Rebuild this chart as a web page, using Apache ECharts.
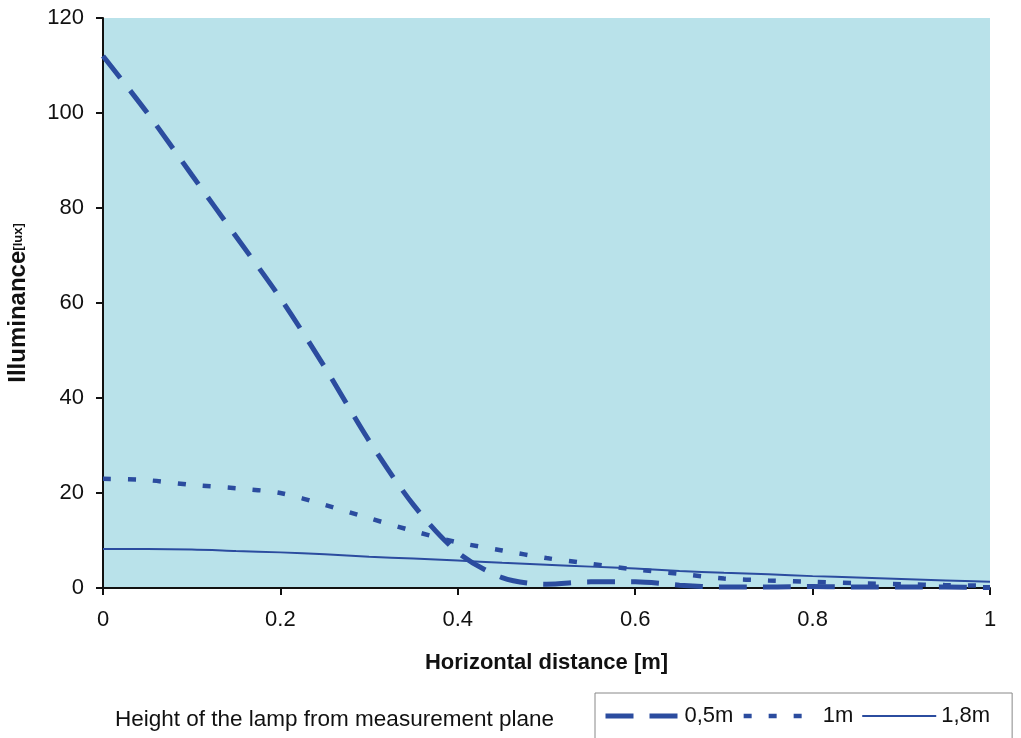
<!DOCTYPE html>
<html lang="en">
<head>
  <meta charset="utf-8">
  <title>Illuminance</title>
  <script src="https://cdn.jsdelivr.net/npm/echarts@6/dist/echarts.min.js"></script>
  <style>
    html, body { margin: 0; padding: 0; background: #fff; }
    #chart { width: 1021px; height: 738px; }
  </style>
</head>
<body>
<div id="chart"></div>

<script>
// horizontal distance [m]
var distance = [0, 0.05, 0.1, 0.15, 0.2, 0.25, 0.3, 0.35, 0.4, 0.45, 0.5,
                0.55, 0.6, 0.65, 0.7, 0.75, 0.8, 0.85, 0.9, 0.95, 1];

// illuminance [lux] per lamp height
var h05 = [112, 100, 87, 74, 61, 46.5, 31, 17.5, 7.5, 2.2, 0.8,
           1.3, 1.3, 0.6, 0.2, 0.2, 0.3, 0.2, 0.2, 0.2, 0.1];
var h1  = [23, 22.7, 21.7, 21, 20, 17.5, 14.7, 12, 9.6, 7.9, 6.3,
           5.1, 3.9, 3.0, 2.0, 1.6, 1.3, 1.0, 0.8, 0.6, 0.5];
var h18 = [8.2, 8.2, 8.1, 7.8, 7.5, 7.1, 6.6, 6.2, 5.8, 5.3, 4.9,
           4.5, 4.1, 3.6, 3.2, 2.9, 2.5, 2.2, 1.9, 1.6, 1.3];

var names = ['0,5m', '1m', '1,8m'];

function pairs(ys) {
  return distance.map(function (x, i) { return [x, ys[i]]; });
}

var lineColor = '#2b4c9f';
var font = 'Liberation Sans, Arial, sans-serif';
var styles = [
  { color: lineColor, width: 5, type: [28, 16] },
  { color: lineColor, width: 4.5, type: [8, 17] },
  { color: lineColor, width: 2, type: 'solid' }
];

var chart = echarts.init(document.getElementById('chart'));

var option = {
  animation: false,
  backgroundColor: '#ffffff',
  textStyle: { fontFamily: font },
  title: {
    text: 'Height of the lamp from measurement plane',
    left: 110,
    top: 703,
    textStyle: { fontSize: 22.5, fontWeight: 'normal', color: '#111', fontFamily: font }
  },
  legend: {
    data: names.map(function (n, i) {
      return { name: n, lineStyle: styles[i] };
    }),
    left: 595,
    top: 693,
    padding: [12, 22, 20, 8],
    itemWidth: 74,
    itemHeight: 14,
    itemGap: 8,
    borderColor: '#888',
    borderWidth: 1,
    itemStyle: { color: 'rgba(0,0,0,0)', borderWidth: 0, opacity: 0 },
    textStyle: { fontSize: 22, color: '#111', fontFamily: font }
  },
  grid: {
    left: 103,
    top: 18,
    width: 887,
    height: 570,
    outerBoundsMode: 'none',
    containLabel: false,
    show: true,
    backgroundColor: '#b9e2ea',
    borderWidth: 0
  },
  xAxis: {
    type: 'value',
    min: 0,
    max: 1,
    interval: 0.2,
    name: 'Horizontal distance [m]',
    nameLocation: 'middle',
    nameGap: 64,
    nameTextStyle: { fontSize: 22, fontWeight: 'bold', color: '#111', fontFamily: font },
    axisLine: { show: true, lineStyle: { color: '#111', width: 2 } },
    axisTick: { show: true, length: 7, lineStyle: { color: '#111', width: 2 } },
    axisLabel: { fontSize: 22, color: '#111', margin: 21 },
    splitLine: { show: false }
  },
  yAxis: {
    type: 'value',
    min: 0,
    max: 120,
    interval: 20,
    name: '{a|Illuminance}{b|[lux]}',
    nameLocation: 'middle',
    nameGap: 73,
    nameTextStyle: {
      color: '#111',
      rich: {
        a: { fontSize: 24, fontWeight: 'bold', color: '#111', fontFamily: font },
        b: { fontSize: 13, fontWeight: 'bold', color: '#111', fontFamily: font }
      }
    },
    axisLine: { show: true, lineStyle: { color: '#111', width: 2 } },
    axisTick: { show: true, length: 7, lineStyle: { color: '#111', width: 2 } },
    axisLabel: { fontSize: 22, color: '#111', margin: 19 },
    splitLine: { show: false }
  },
  series: [
    {
      name: names[0],
      type: 'line',
      data: pairs(h05),
      smooth: 0.3,
      symbol: 'none',
      lineStyle: styles[0],
      itemStyle: { color: lineColor }
    },
    {
      name: names[1],
      type: 'line',
      data: pairs(h1),
      smooth: 0.3,
      symbol: 'none',
      lineStyle: styles[1],
      itemStyle: { color: lineColor }
    },
    {
      name: names[2],
      type: 'line',
      data: pairs(h18),
      smooth: 0.3,
      symbol: 'none',
      lineStyle: styles[2],
      itemStyle: { color: lineColor }
    }
  ]
};

chart.setOption(option);
</script>
</body>
</html>
